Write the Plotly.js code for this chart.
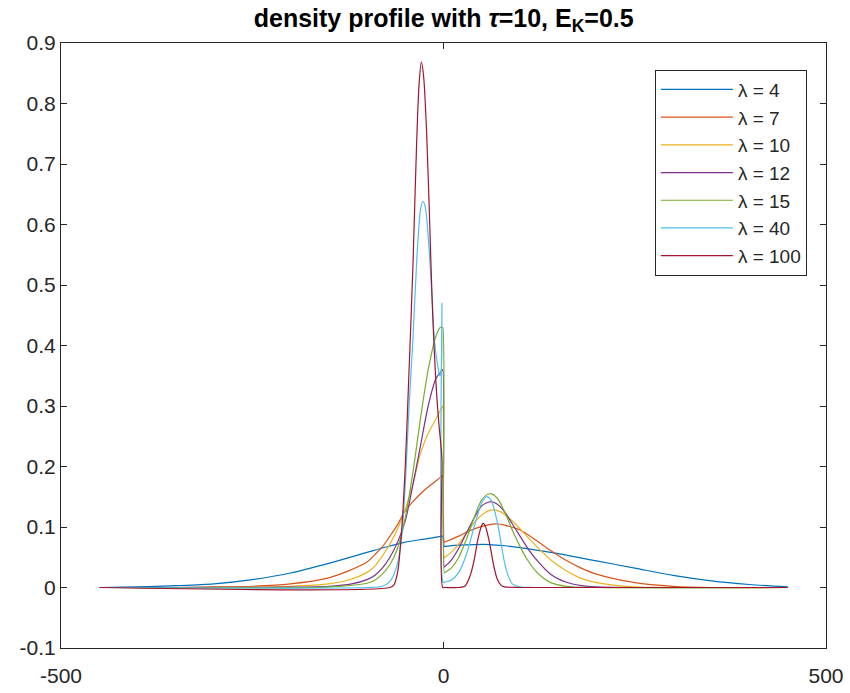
<!DOCTYPE html>
<html>
<head>
<meta charset="utf-8">
<script src="https://cdn.plot.ly/plotly-3.0.1.min.js"></script>
<style>html,body{margin:0;padding:0;background:#fff}#chart{width:850px;height:693px}</style>
</head>
<body>
<div id="chart"></div>
<script>
// ---- data ----
const lambdas = [4, 7, 10, 12, 15, 40, 100];
const seriesNames = ['λ = 4', 'λ = 7', 'λ = 10', 'λ = 12', 'λ = 15', 'λ = 40', 'λ = 100'];

const x_l4 = [-450,-400,-350,-300,-250,-200,-150,-100,-75,-50,-25,-2,-1, 1,2,20,40,60,80,100,150,200,250,300,350,400,450];
const y_l4 = [0.000,0.001,0.003,0.006,0.013,0.024,0.040,0.058,0.067,0.075,0.080,0.0848,0.085, 0.068,0.0681,0.070,0.071,0.071,0.069,0.066,0.056,0.044,0.032,0.020,0.011,0.005,0.001];

const x_l7 = [-450,-350,-300,-250,-200,-150,-125,-100,-90,-80,-70,-60,-50,-40,-30,-20,-10,-2,-1, 1,2,20,40,60,70,80,100,120,140,160,180,200,250,300,350,450];
const y_l7 = [0,0,0.001,0.002,0.006,0.016,0.027,0.042,0.054,0.067,0.085,0.104,0.127,0.142,0.155,0.166,0.176,0.184,0.185, 0.075,0.0755,0.085,0.097,0.104,0.105,0.103,0.095,0.079,0.061,0.045,0.032,0.022,0.008,0.002,0,0];

const x_l10 = [-450,-300,-250,-200,-150,-125,-100,-90,-80,-70,-60,-50,-40,-30,-20,-10,-2,-1, 1,2,10,20,30,40,50,62,75,90,100,120,140,160,180,200,250,300,450];
const y_l10 = [0,0,0.0005,0.002,0.006,0.012,0.025,0.035,0.052,0.072,0.097,0.13,0.17,0.222,0.255,0.278,0.298,0.300, 0.049,0.050,0.058,0.072,0.09,0.107,0.12,0.128,0.125,0.11,0.097,0.07,0.046,0.028,0.015,0.008,0.001,0,0];

const x_l12 = [-450,-200,-150,-120,-100,-90,-80,-70,-60,-50,-40,-30,-20,-10,-2,-1, 1,2,10,20,30,40,50,62,70,80,90,100,110,120,140,160,180,200,250,450];
const y_l12 = [0,0.0005,0.002,0.006,0.013,0.020,0.032,0.050,0.075,0.11,0.17,0.235,0.300,0.345,0.359,0.360, 0.034,0.035,0.045,0.065,0.09,0.115,0.135,0.142,0.138,0.125,0.105,0.085,0.065,0.048,0.022,0.009,0.003,0.001,0,0];

const x_l15 = [-450,-150,-100,-90,-80,-70,-60,-50,-40,-30,-20,-10,-4,-2,-1, 1,2,10,20,30,40,50,60,70,80,90,100,110,120,130,140,160,200,450];
const y_l15 = [0,0.001,0.007,0.012,0.022,0.038,0.065,0.115,0.19,0.28,0.36,0.415,0.43,0.43,0.43, 0.024,0.025,0.032,0.05,0.08,0.115,0.145,0.155,0.148,0.125,0.095,0.068,0.045,0.028,0.016,0.008,0.002,0,0];

const x_l40 = [-450,-100,-80,-70,-60,-55,-50,-45,-40,-35,-30,-27,-24,-20,-15,-12,-8,-5,-3,-2,-1, 1,2,10,20,30,40,50,56,62,70,75,80,85,90,100,120,450];
const y_l40 = [0,0,0.002,0.01,0.04,0.08,0.17,0.30,0.41,0.54,0.625,0.638,0.63,0.58,0.48,0.41,0.37,0.35,0.36,0.47,0.01, 0.008,0.009,0.012,0.025,0.055,0.10,0.14,0.150,0.145,0.11,0.075,0.04,0.018,0.006,0.001,0,0];

const x_l100 = [-450,-70,-65,-60,-55,-50,-45,-40,-35,-32,-29,-26,-22,-18,-15,-12,-9,-6,-3,-2,-1, 2,20,28,35,40,45,50,52,55,60,65,70,75,80,100,450];
const y_l100 = [0,0,0.004,0.025,0.09,0.2,0.36,0.53,0.74,0.83,0.869,0.845,0.75,0.60,0.48,0.39,0.32,0.27,0.23,0.21,0, 0,0,0.002,0.02,0.045,0.08,0.103,0.106,0.10,0.075,0.04,0.015,0.004,0.001,0,0];

const xTicks = [-500, 0, 500];
const xTickLabels = ['-500', '0', '500'];
const yTicks = [-0.1, 0, 0.1, 0.2, 0.3, 0.4, 0.5, 0.6, 0.7, 0.8, 0.9];
const yTickLabels = ['-0.1', '0', '0.1', '0.2', '0.3', '0.4', '0.5', '0.6', '0.7', '0.8', '0.9'];

const colors = ['#0072BD', '#D95319', '#EDB120', '#7E2F8E', '#77AC30', '#4DBEEE', '#A2142F'];
const xs = [x_l4, x_l7, x_l10, x_l12, x_l15, x_l40, x_l100];
const ys = [y_l4, y_l7, y_l10, y_l12, y_l15, y_l40, y_l100];

const traces = lambdas.map((lam, i) => ({
  type: 'scatter', mode: 'lines',
  x: xs[i], y: ys[i], name: seriesNames[i],
  legendgroup: 'g' + i,
  line: {color: colors[i], width: 1.2, shape: 'spline', smoothing: 0.8}
}));

const FONT = 'Liberation Sans, Arial, Helvetica, sans-serif';
const axisCommon = {
  showline: true, mirror: 'ticks', linecolor: '#262626', linewidth: 1,
  ticks: 'inside', ticklen: 6, tickcolor: '#262626', tickwidth: 1,
  showgrid: false, zeroline: false,
  tickfont: {family: FONT, size: 21, color: '#262626'}
};

const layout = {
  width: 850, height: 693,
  margin: {l: 61, r: 24, t: 43, b: 45},
  paper_bgcolor: '#fff', plot_bgcolor: '#fff',
  font: {family: FONT, color: '#262626'},
  title: {
    text: '<b>density profile with <i>τ</i>=10, E<sub>K</sub>=0.5</b>',
    font: {family: FONT, size: 25, color: '#000'},
    x: 0.522, xanchor: 'center', y: 0.974, yanchor: 'middle'
  },
  xaxis: Object.assign({}, axisCommon, {range: [-500, 500], tickvals: xTicks, ticktext: xTickLabels, ticklabelstandoff: 9}),
  yaxis: Object.assign({}, axisCommon, {range: [-0.1, 0.9], tickvals: yTicks, ticktext: yTickLabels, ticklabelstandoff: 0}),
  showlegend: true,
  legend: {
    x: 0.975, xanchor: 'right', y: 0.956, yanchor: 'top',
    bgcolor: '#fff', bordercolor: '#262626', borderwidth: 1,
    font: {family: FONT, size: 19, color: '#262626'},
    itemwidth: 72, tracegroupgap: 0
  }
};

Plotly.newPlot('chart', traces, layout, {displayModeBar: false, staticPlot: true});
</script>
</body>
</html>
